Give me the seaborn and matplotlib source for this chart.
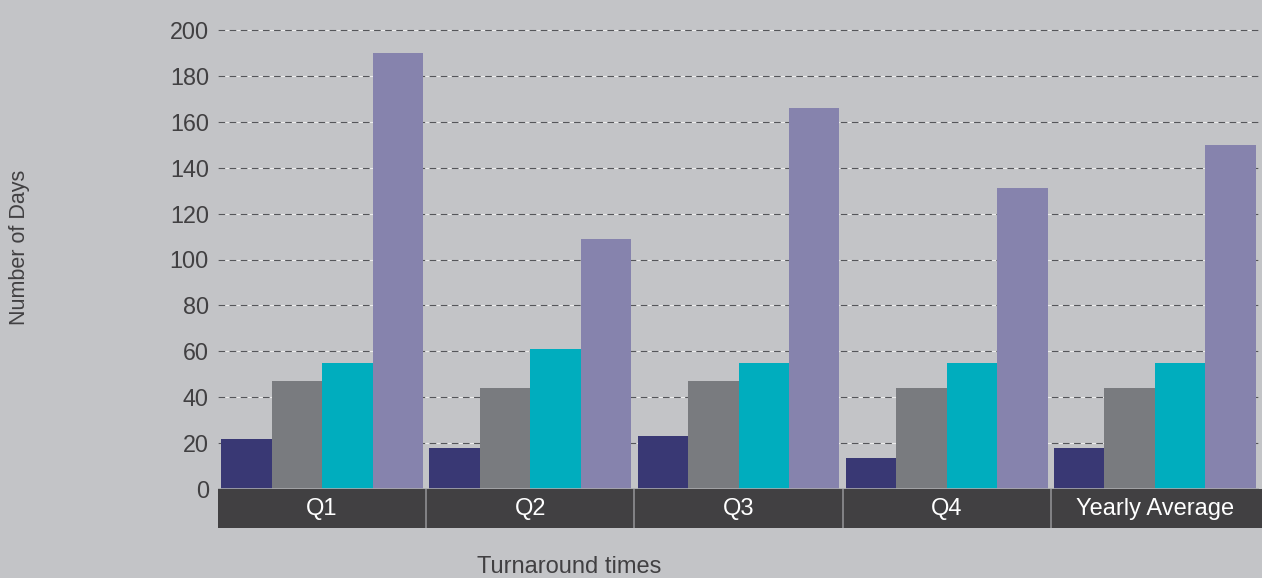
import matplotlib
matplotlib.use("Agg")
import matplotlib.pyplot as plt
import seaborn as sns
import pandas as pd

categories = ["Q1", "Q2", "Q3", "Q4", "Yearly Average"]
series_names = ["Series A", "Series B", "Series C", "Series D"]
series_a = [22, 18, 23, 13.5, 18]
series_b = [47, 44, 47, 44, 44]
series_c = [55, 61, 55, 55, 55]
series_d = [190, 109, 166, 131, 150]
yticks = [0, 20, 40, 60, 80, 100, 120, 140, 160, 180, 200]

colors = ["#393874", "#797b7f", "#00adbe", "#8683ad"]
bg = "#c3c4c7"
band = "#414042"
txt = "#414042"

rows = []
for name, vals in zip(series_names, [series_a, series_b, series_c, series_d]):
    for c, v in zip(categories, vals):
        rows.append({"cat": c, "series": name, "value": v})
df = pd.DataFrame(rows)

sns.set_theme(style="white")
plt.rcParams["font.family"] = ["Liberation Sans", "DejaVu Sans"]

W, H = 1262, 578
fig = plt.figure(figsize=(W / 100, H / 100), dpi=100, facecolor=bg)

ax_left = 218 / W
ax_w = 1041 / W
ymax = 205
px_per = 459 / 200
top_px = 489 - ymax * px_per
ax = fig.add_axes([ax_left, (H - 489) / H, ax_w, (489 - top_px) / H])
ax.set_facecolor(bg)

# gridlines: dark dashes with white gaps
for t in yticks[1:]:
    ax.axhline(t, color="#ececec", lw=0.8, zorder=0)
    ax.axhline(t, color="#55565a", lw=0.8, ls=(0, (6, 4)), zorder=0.5)

sns.barplot(data=df, x="cat", y="value", hue="series", order=categories,
            hue_order=series_names, palette=colors, width=0.97, gap=0,
            saturation=1, ax=ax, legend=False, zorder=2)
for p in ax.patches:
    p.set_edgecolor("none")

ax.set_ylim(0, ymax)
ax.set_xlim(-0.5, len(categories) - 0.5)
ax.set_yticks(yticks)
ax.set_yticklabels([str(t) for t in yticks], fontsize=16.8, color=txt)
ax.tick_params(axis="y", length=0, pad=6.5)
ax.set_xticks([])
ax.set_xlabel("")
ax.set_ylabel("")
for s in ax.spines.values():
    s.set_visible(False)
ax.axhline(0, color="#a8a9ac", lw=1.2, zorder=3)

# category band
band_ax = fig.add_axes([ax_left, (H - 528) / H, (W - 218) / W, 39 / H])
band_ax.set_facecolor(band)
band_ax.set_xlim(-0.5, -0.5 + (W - 218) / 1041 * len(categories))
band_ax.set_ylim(0, 1)
for i in range(1, len(categories)):
    band_ax.axvline(i - 0.5, color="#8e8f92", lw=1.2)
for i, c in enumerate(categories):
    band_ax.text(i, 0.5, c, color="white", fontsize=17, ha="center", va="center")
band_ax.set_xticks([])
band_ax.set_yticks([])
for s in band_ax.spines.values():
    s.set_visible(False)

fig.text(20 / W, 1 - 247 / H, "Number of Days", rotation=90, fontsize=15.5,
         color=txt, ha="center", va="center")
fig.text(569 / W, 1 - 567 / H, "Turnaround times", fontsize=17,
         color=txt, ha="center", va="center")

fig.savefig("out.png", dpi=100, facecolor=bg)
